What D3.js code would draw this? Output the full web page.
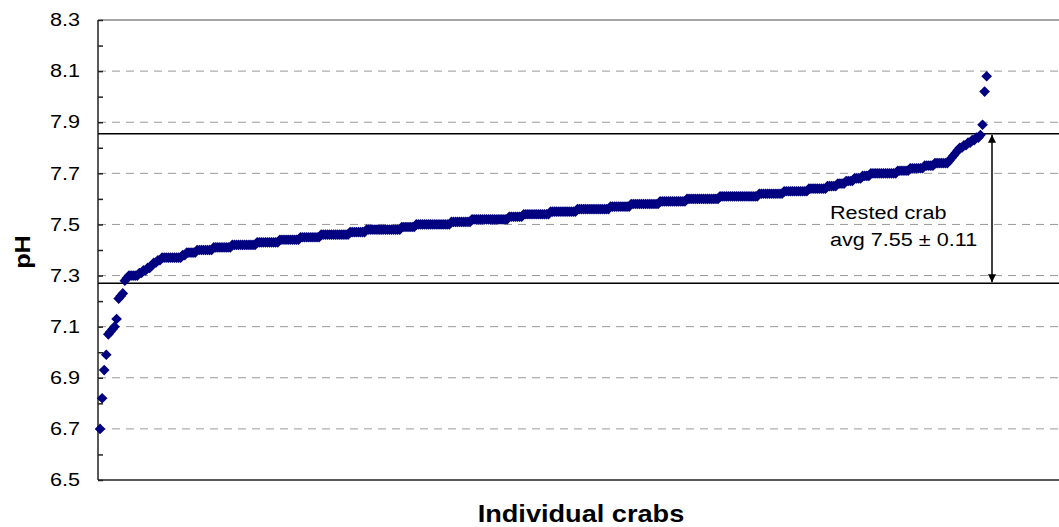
<!DOCTYPE html>
<html>
<head>
<meta charset="utf-8">
<script src="https://cdn.jsdelivr.net/npm/d3@7"></script>
<style>
  body { margin: 0; background: #fff; }
  svg { font-family: "Liberation Sans", Arial, sans-serif; }
</style>
</head>
<body>
<svg id="chart" width="1059" height="527"></svg>
<script>
// pH readings, sorted, and how many crabs share each reading
var phValues = [6.70, 6.82, 6.93, 6.99, 7.07, 7.08, 7.09, 7.10, 7.13, 7.21, 7.22, 7.23, 7.28, 7.29,
  7.30, 7.31, 7.32, 7.33, 7.34, 7.35, 7.36, 7.37, 7.38, 7.39, 7.40, 7.41, 7.42, 7.43, 7.44, 7.45,
  7.46, 7.47, 7.48, 7.49, 7.50, 7.51, 7.52, 7.53, 7.54, 7.55, 7.56, 7.57, 7.58, 7.59, 7.60, 7.61,
  7.62, 7.63, 7.64, 7.65, 7.66, 7.67, 7.68, 7.69, 7.70, 7.71, 7.72, 7.73, 7.74, 7.75, 7.76, 7.77,
  7.78, 7.79, 7.80, 7.81, 7.82, 7.83, 7.84, 7.85, 7.89, 8.02, 8.08];
var crabCounts = [1, 1, 1, 1, 1, 1, 1, 1, 1, 1, 1, 1, 1, 1,
  5, 2, 2, 2, 1, 2, 2, 10, 2, 5, 8, 9, 12, 11, 10, 10,
  14, 8, 17, 7, 17, 10, 18, 7, 13, 13, 16, 10, 14, 13, 16, 19,
  12, 12, 9, 5, 4, 4, 4, 4, 13, 6, 7, 5, 7, 1, 1, 1,
  1, 1, 2, 2, 2, 2, 2, 1, 1, 1, 1];

var yTicks = [6.5, 6.7, 6.9, 7.1, 7.3, 7.5, 7.7, 7.9, 8.1, 8.3];
var yMinorTicks = [6.5, 6.6, 6.7, 6.8, 6.9, 7.0, 7.1, 7.2, 7.3, 7.4, 7.5, 7.6, 7.7, 7.8, 7.9, 8.0, 8.1, 8.2, 8.3];
var bandLimits = [7.855, 7.27];
var noteLines = ["Rested crab", "avg 7.55 \u00b1 0.11"];

var crabs = [];
phValues.forEach(function(v, i) {
  for (var k = 0; k < crabCounts[i]; k++) crabs.push(v);
});

var svg = d3.select("#chart"),
  plotLeft = 98, plotRight = 1059, plotTop = 20, plotBottom = 480;

var x = d3.scaleLinear().domain([0, 465]).range([plotLeft, plotRight]);
var y = d3.scaleLinear().domain([6.5, 8.3]).range([plotBottom, plotTop]);

// the original text is drawn a bit wider than Arial
function widen(sel, f) {
  sel.each(function() {
    var w = this.getComputedTextLength();
    d3.select(this).attr("textLength", w * f).attr("lengthAdjust", "spacingAndGlyphs");
  });
}

// gridlines
svg.append("g").selectAll("line")
  .data(yTicks.filter(function(d) { return d > 6.5 && d < 8.3; }))
  .enter().append("line")
  .attr("x1", plotLeft).attr("x2", plotRight)
  .attr("y1", function(d) { return y(d); }).attr("y2", function(d) { return y(d); })
  .attr("stroke", "#999").attr("stroke-width", 1)
  .attr("stroke-dasharray", "8,6");

// top border
svg.append("line")
  .attr("x1", plotLeft).attr("x2", plotRight)
  .attr("y1", plotTop).attr("y2", plotTop)
  .attr("stroke", "#888").attr("stroke-width", 1.5);

// tick labels
var yAxis = svg.append("g")
  .attr("transform", "translate(" + plotLeft + ",0)")
  .call(d3.axisLeft(y).tickValues(yTicks).tickSize(0).tickPadding(18).tickFormat(d3.format(".1f")));
yAxis.select(".domain").remove();
yAxis.selectAll("text")
  .attr("font-size", 18)
  .attr("fill", "#000")
  .attr("font-family", "Liberation Sans, Arial, sans-serif")
  .call(widen, 1.2);

// inward ticks
var tickAxis = svg.append("g")
  .attr("transform", "translate(" + plotLeft + ",0)")
  .call(d3.axisRight(y).tickValues(yMinorTicks).tickSize(5).tickFormat(""));
tickAxis.select(".domain").remove();
tickAxis.selectAll("line").attr("stroke", "#222").attr("stroke-width", 1.5);

// axes lines
svg.append("line")
  .attr("x1", plotLeft).attr("x2", plotLeft).attr("y1", plotTop).attr("y2", plotBottom)
  .attr("stroke", "#222").attr("stroke-width", 1.5);
svg.append("line")
  .attr("x1", plotLeft).attr("x2", plotRight).attr("y1", plotBottom).attr("y2", plotBottom)
  .attr("stroke", "#222").attr("stroke-width", 1.5);

// range lines
svg.append("g").selectAll("line")
  .data(bandLimits)
  .enter().append("line")
  .attr("x1", plotLeft).attr("x2", plotRight)
  .attr("y1", function(d) { return y(d); }).attr("y2", function(d) { return y(d); })
  .attr("stroke", "#000").attr("stroke-width", 1.5);

// points
var diamond = d3.symbol().type(d3.symbolSquare).size(57);
svg.append("g").selectAll("path")
  .data(crabs)
  .enter().append("path")
  .attr("d", diamond)
  .attr("transform", function(d, i) {
    return "translate(" + x(i + 1) + "," + y(d) + ") rotate(45)";
  })
  .attr("fill", "#000080");

// double arrow
var defs = svg.append("defs");
defs.append("marker")
  .attr("id", "head")
  .attr("viewBox", "0 0 10 10")
  .attr("refX", 10).attr("refY", 5)
  .attr("markerWidth", 8).attr("markerHeight", 8)
  .attr("markerUnits", "userSpaceOnUse")
  .attr("orient", "auto-start-reverse")
  .append("path")
  .attr("d", "M0,0L10,5L0,10Z")
  .attr("fill", "#000");

var arrowX = 992;
svg.append("line")
  .attr("x1", arrowX).attr("x2", arrowX)
  .attr("y1", y(bandLimits[0]) + 1).attr("y2", y(bandLimits[1]) - 1)
  .attr("stroke", "#000").attr("stroke-width", 1.5)
  .attr("marker-start", "url(#head)")
  .attr("marker-end", "url(#head)");

// annotation
svg.append("g").selectAll("text")
  .data(noteLines)
  .enter().append("text")
  .attr("x", 830)
  .attr("y", function(d, i) { return 219 + i * 27; })
  .attr("font-size", 18)
  .text(function(d) { return d; })
  .call(widen, 1.2);

// axis titles
svg.append("text")
  .attr("transform", "translate(30,252) rotate(-90)")
  .attr("text-anchor", "middle")
  .attr("font-size", 22)
  .attr("font-weight", "bold")
  .text("pH")
  .call(widen, 1.15);

svg.append("text")
  .attr("x", 581).attr("y", 522)
  .attr("text-anchor", "middle")
  .attr("font-size", 23)
  .attr("font-weight", "bold")
  .text("Individual crabs")
  .call(widen, 1.18);
</script>
</body>
</html>
